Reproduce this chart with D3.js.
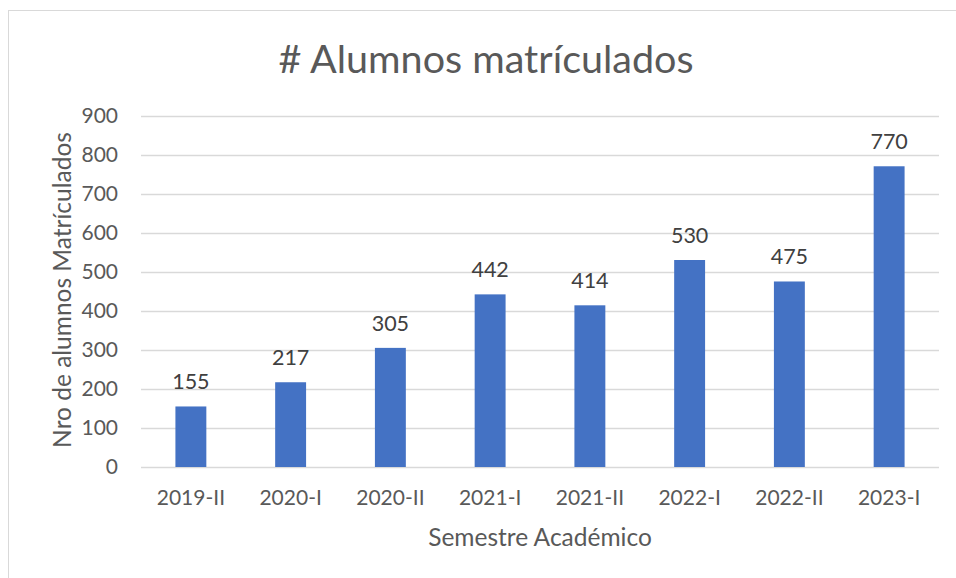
<!DOCTYPE html>
<html>
<head>
<meta charset="utf-8">
<script src="https://cdn.jsdelivr.net/npm/d3@7"></script>
<style>
  body { margin: 0; background: #fff; }
  text { font-family: Lato, "Open Sans", sans-serif; fill: #595959; }
</style>
</head>
<body>
<div id="chart_div"></div>
<script>
var semestres = ["2019-II", "2020-I", "2020-II", "2021-I", "2021-II", "2022-I", "2022-II", "2023-I"];
var alumnos = [155, 217, 305, 442, 414, 530, 475, 770];
var y_ticks = [0, 100, 200, 300, 400, 500, 600, 700, 800, 900];

var chart_width = 956;
var chart_height = 578;

var svg = d3.select("#chart_div").append("svg")
    .attr("width", chart_width)
    .attr("height", chart_height);

// chart frame
svg.append("rect")
    .attr("x", 8.5).attr("y", 10.5)
    .attr("width", 960).attr("height", 580)
    .attr("fill", "white")
    .attr("stroke", "#d9d9d9");

var x = d3.scaleBand()
    .domain(semestres)
    .range([141, 939])
    .paddingInner(0.69)
    .paddingOuter(0.345);

var y = d3.scaleLinear()
    .domain([0, 900])
    .range([467, 115.5]);

// gridlines
svg.append("g").selectAll("line")
    .data(y_ticks)
    .enter().append("line")
    .attr("x1", 141).attr("x2", 939)
    .attr("y1", function(d) { return Math.round(y(d)) + 0.5; })
    .attr("y2", function(d) { return Math.round(y(d)) + 0.5; })
    .attr("stroke", "#d9d9d9")
    .attr("stroke-width", 1.5);

// y tick labels
svg.append("g").selectAll("text")
    .data(y_ticks)
    .enter().append("text")
    .attr("x", 118)
    .attr("y", function(d) { return y(d); })
    .attr("dy", "0.35em")
    .attr("text-anchor", "end")
    .style("font-size", "21px")
    .text(function(d) { return d; });

// bars
svg.append("g").selectAll("rect")
    .data(alumnos)
    .enter().append("rect")
    .attr("x", function(d, i) { return x(semestres[i]); })
    .attr("width", x.bandwidth())
    .attr("y", function(d) { return y(d); })
    .attr("height", function(d) { return y(0) - y(d); })
    .attr("fill", "#4472c4");

// value labels
svg.append("g").selectAll("text")
    .data(alumnos)
    .enter().append("text")
    .attr("x", function(d, i) { return x(semestres[i]) + x.bandwidth() / 2; })
    .attr("y", function(d) { return y(d) - 17; })
    .attr("text-anchor", "middle")
    .style("font-size", "21.5px")
    .style("fill", "#404040")
    .text(function(d) { return d; });

// x tick labels
svg.append("g").selectAll("text")
    .data(semestres)
    .enter().append("text")
    .attr("x", function(d) { return x(d) + x.bandwidth() / 2; })
    .attr("y", 505)
    .attr("text-anchor", "middle")
    .style("font-size", "21px")
    .text(function(d) { return d; });

// titles
svg.append("text")
    .attr("x", 486).attr("y", 73)
    .attr("text-anchor", "middle")
    .style("font-size", "39.5px")
    .text("# Alumnos matrículados");

svg.append("text")
    .attr("x", 540).attr("y", 546)
    .attr("text-anchor", "middle")
    .style("font-size", "24.5px")
    .text("Semestre Académico");

svg.append("text")
    .attr("transform", "translate(71,290) rotate(-90)")
    .attr("text-anchor", "middle")
    .style("font-size", "24.5px")
    .text("Nro de alumnos Matrículados");
</script>
</body>
</html>
